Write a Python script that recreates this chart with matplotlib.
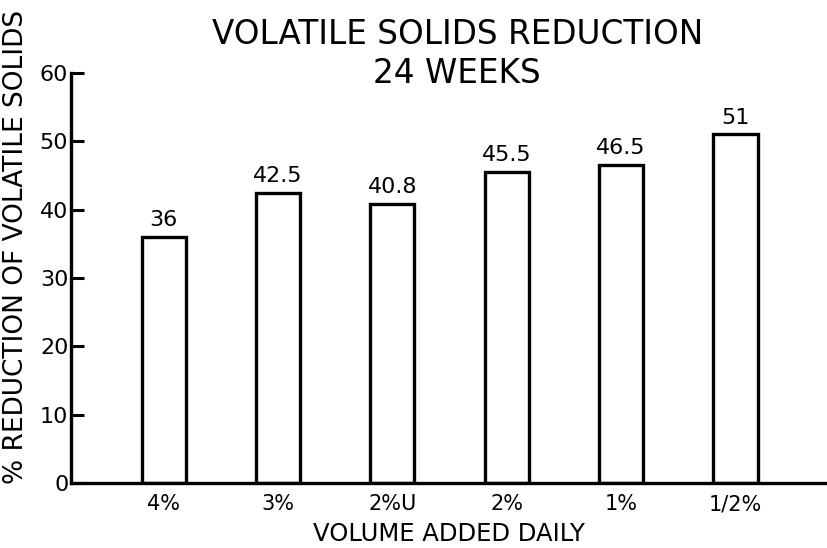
import matplotlib
matplotlib.use("Agg")
import matplotlib.pyplot as plt
import numpy as np

categorias = ["4%", "3%", "2%U", "2%", "1%", "1/2%"]
reducao = [36, 42.5, 40.8, 45.5, 46.5, 51]
rotulos = ["36", "42.5", "40.8", "45.5", "46.5", "51"]
y_ticks = [0, 10, 20, 30, 40, 50, 60]

plt.rcParams["font.family"] = ["DejaVu Sans"]

fig = plt.figure(figsize=(8.27, 5.48), dpi=100)
ax = fig.add_axes([0.0859, 0.1186, 0.9141, 0.7482])

x = np.arange(len(categorias))
barras = ax.bar(x, reducao, width=0.385, color="white", edgecolor="black", linewidth=2.4)
ax.bar_label(barras, labels=rotulos, padding=5, fontsize=16)

ax.set_xlim(-0.81, 5.80)
ax.set_ylim(0, 60)
ax.set_yticks(y_ticks)
ax.set_xticks(x)
ax.set_xticklabels(categorias, fontsize=15)
ax.tick_params(axis="x", length=0, pad=8)
ax.tick_params(axis="y", direction="in", length=9, width=2.2, labelsize=16, pad=2)

for lado in ["top", "right"]:
    ax.spines[lado].set_visible(False)
for lado in ["left", "bottom"]:
    ax.spines[lado].set_linewidth(2.4)

fig.text(0.543, 1 - 541 / 548, "VOLUME ADDED DAILY", fontsize=17.5, ha="center", va="baseline")
fig.text(0.019, 1 - 247 / 548, "% REDUCTION OF VOLATILE SOLIDS", rotation=90,
         fontsize=19, ha="center", va="center")
fig.text(0.553, 1 - 54 / 548, "VOLATILE SOLIDS REDUCTION\n24 WEEKS", fontsize=23.5,
         ha="center", va="center", linespacing=1.2)

fig.savefig("out.png", dpi=100)
